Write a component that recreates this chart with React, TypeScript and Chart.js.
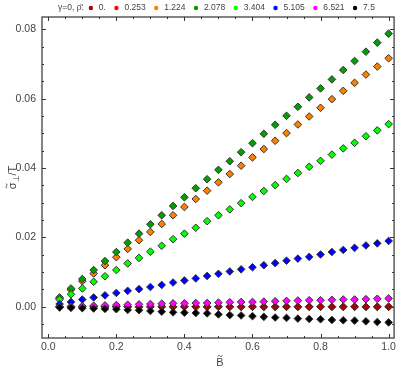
import React, { useEffect, useRef } from "react";
import { Chart, registerables } from "chart.js";

Chart.register(...registerables);

// ---------- data ----------
const B_VALUES = [
  1 / 30, 2 / 30, 3 / 30, 4 / 30, 5 / 30, 6 / 30, 7 / 30, 8 / 30, 9 / 30, 10 / 30,
  11 / 30, 12 / 30, 13 / 30, 14 / 30, 15 / 30, 16 / 30, 17 / 30, 18 / 30, 19 / 30, 20 / 30,
  21 / 30, 22 / 30, 23 / 30, 24 / 30, 25 / 30, 26 / 30, 27 / 30, 28 / 30, 29 / 30, 30 / 30,
];

const RHO_LABELS = ["0.", "0.253", "1.224", "2.078", "3.404", "5.105", "6.521", "7.5"];
const LEGEND_TITLE = "\u03b3=0, \u03c1\u0304:";

const S_RHO_0 = [
  0.0000, 0.0000, 0.0000, 0.0000, 0.0000, 0.0000, 0.0000, 0.0000, 0.0000, 0.0000,
  0.0000, 0.0000, 0.0000, 0.0000, 0.0000, 0.0000, 0.0000, 0.0000, 0.0000, 0.0000,
  0.0000, 0.0000, 0.0000, 0.0000, 0.0000, 0.0000, 0.0000, 0.0000, 0.0000, 0.0000,
];
const S_RHO_0253 = [
  0.0000, 0.0000, 0.0000, 0.0000, 0.0000, 0.0000, 0.0000, 0.0000, 0.0000, 0.0000,
  0.0000, 0.0000, 0.0000, 0.0000, 0.0000, 0.0000, 0.0000, 0.0000, 0.0000, 0.0000,
  0.0000, 0.0000, 0.0000, 0.0000, 0.0000, 0.0000, 0.0000, 0.0000, 0.0000, 0.0000,
];
const S_RHO_1224 = [
  0.0024, 0.0049, 0.0074, 0.0096, 0.0120, 0.0143, 0.0167, 0.0192, 0.0216, 0.0239,
  0.0264, 0.0288, 0.0311, 0.0335, 0.0359, 0.0383, 0.0407, 0.0431, 0.0455, 0.0479,
  0.0501, 0.0526, 0.0549, 0.0574, 0.0599, 0.0623, 0.0646, 0.0670, 0.0693, 0.0717,
];
const S_RHO_2078 = [
  0.0027, 0.0053, 0.0080, 0.0106, 0.0132, 0.0158, 0.0185, 0.0211, 0.0238, 0.0264,
  0.0291, 0.0316, 0.0342, 0.0368, 0.0395, 0.0420, 0.0446, 0.0472, 0.0499, 0.0525,
  0.0551, 0.0577, 0.0604, 0.0630, 0.0656, 0.0683, 0.0709, 0.0736, 0.0762, 0.0788,
];
const S_RHO_3404 = [
  0.0021, 0.0036, 0.0053, 0.0072, 0.0088, 0.0106, 0.0125, 0.0141, 0.0159, 0.0176,
  0.0195, 0.0211, 0.0228, 0.0247, 0.0264, 0.0281, 0.0299, 0.0317, 0.0334, 0.0351,
  0.0369, 0.0386, 0.0404, 0.0421, 0.0439, 0.0457, 0.0473, 0.0492, 0.0509, 0.0527,
];
const S_RHO_5105 = [
  0.0008, 0.0014, 0.0021, 0.0027, 0.0033, 0.0040, 0.0046, 0.0051, 0.0057, 0.0063,
  0.0070, 0.0076, 0.0082, 0.0089, 0.0095, 0.0102, 0.0108, 0.0114, 0.0120, 0.0126,
  0.0133, 0.0139, 0.0144, 0.0151, 0.0158, 0.0164, 0.0170, 0.0177, 0.0183, 0.0190,
];
const S_RHO_6521 = [
  0.0000, 0.0001, 0.0002, 0.0003, 0.0004, 0.0005, 0.0006, 0.0007, 0.0008, 0.0009,
  0.0010, 0.0010, 0.0011, 0.0011, 0.0012, 0.0013, 0.0014, 0.0014, 0.0015, 0.0016,
  0.0017, 0.0018, 0.0019, 0.0019, 0.0020, 0.0021, 0.0021, 0.0022, 0.0023, 0.0024,
];
const S_RHO_75 = [
  -0.0002, -0.0003, -0.0004, -0.0005, -0.0006, -0.0007, -0.0009, -0.0010, -0.0012, -0.0014,
  -0.0016, -0.0017, -0.0018, -0.0019, -0.0022, -0.0024, -0.0025, -0.0027, -0.0029, -0.0031,
  -0.0032, -0.0034, -0.0035, -0.0036, -0.0038, -0.0039, -0.0040, -0.0042, -0.0044, -0.0045,
];

const SERIES = [S_RHO_0, S_RHO_0253, S_RHO_1224, S_RHO_2078, S_RHO_3404, S_RHO_5105, S_RHO_6521, S_RHO_75];
const COLORS = ["#aa0000", "#ff0000", "#ff8000", "#00a000", "#00ff00", "#0000ff", "#ff00ff", "#000000"];
// drawing order: lower = on top (later series drawn above earlier ones; 0.253 lowest)
const ORDERS = [7, 8, 6, 5, 4, 3, 2, 1];

const X_MIN = -0.0184;
const X_MAX = 1.016;
const Y_MIN = -0.009;
const Y_MAX = 0.0836;
const X_MAJOR = 0.2;
const X_MINOR = 0.05;
const Y_MAJOR = 0.02;
const Y_MINOR = 0.005;

const FONT = "'Liberation Sans', Arial, sans-serif";
const TEXT_COLOR = "#444444";
const FRAME_COLOR = "#333333";

function tickValues(min: number, max: number, step: number): number[] {
  const out: number[] = [];
  const start = Math.ceil(min / step - 1e-9);
  const end = Math.floor(max / step + 1e-9);
  for (let k = start; k <= end; k++) out.push(k * step);
  return out;
}

function drawTilde(ctx: CanvasRenderingContext2D, cx: number, cy: number, w: number) {
  ctx.beginPath();
  ctx.moveTo(cx - w / 2, cy + 0.6);
  ctx.bezierCurveTo(cx - w / 4, cy - 1.4, cx - w / 8, cy - 0.4, cx, cy);
  ctx.bezierCurveTo(cx + w / 8, cy + 0.4, cx + w / 4, cy + 1.4, cx + w / 2, cy - 0.6);
  ctx.stroke();
}

const framePlugin = {
  id: "frameTicks",
  afterDatasetsDraw(chart: any) {
    const { ctx, chartArea } = chart;
    const { left, right, top, bottom } = chartArea;
    const xs = chart.scales.x;
    const ys = chart.scales.y;
    ctx.save();
    ctx.strokeStyle = FRAME_COLOR;
    ctx.lineWidth = 1;
    const drawX = (vals: number[], len: number) => {
      vals.forEach((v) => {
        const px = Math.round(xs.getPixelForValue(v)) + 0.5;
        ctx.beginPath();
        ctx.moveTo(px, bottom);
        ctx.lineTo(px, bottom - len);
        ctx.moveTo(px, top);
        ctx.lineTo(px, top + len);
        ctx.stroke();
      });
    };
    const drawY = (vals: number[], len: number) => {
      vals.forEach((v) => {
        const py = Math.round(ys.getPixelForValue(v)) + 0.5;
        ctx.beginPath();
        ctx.moveTo(left, py);
        ctx.lineTo(left + len, py);
        ctx.moveTo(right, py);
        ctx.lineTo(right - len, py);
        ctx.stroke();
      });
    };
    drawX(tickValues(X_MIN, X_MAX, X_MAJOR), 4);
    drawX(tickValues(X_MIN, X_MAX, X_MINOR).filter((v) => Math.abs(v / X_MAJOR - Math.round(v / X_MAJOR)) > 1e-6), 2);
    drawY(tickValues(Y_MIN, Y_MAX, Y_MAJOR), 4);
    drawY(tickValues(Y_MIN, Y_MAX, Y_MINOR).filter((v) => Math.abs(v / Y_MAJOR - Math.round(v / Y_MAJOR)) > 1e-6), 2);
    ctx.lineWidth = 1.2;
    ctx.strokeRect(left, top, right - left, bottom - top);
    ctx.restore();
  },
  afterDraw(chart: any) {
    const { ctx, chartArea } = chart;
    ctx.save();
    // legend
    ctx.font = `8.5px ${FONT}`;
    ctx.textBaseline = "middle";
    ctx.textAlign = "left";
    const ly = 8;
    let x = 58;
    ctx.fillStyle = TEXT_COLOR;
    ctx.fillText(LEGEND_TITLE, x, ly);
    x += ctx.measureText(LEGEND_TITLE).width + 3;
    RHO_LABELS.forEach((lab, i) => {
      ctx.beginPath();
      ctx.arc(x + 4, ly, 2.2, 0, Math.PI * 2);
      ctx.fillStyle = COLORS[i];
      ctx.fill();
      ctx.fillStyle = TEXT_COLOR;
      ctx.fillText(lab, x + 12, ly);
      x += 12 + ctx.measureText(lab).width + 6.5;
    });

    ctx.strokeStyle = TEXT_COLOR;
    ctx.lineWidth = 0.9;

    // x axis title: B with tilde
    const main = `11px ${FONT}`;
    const sub = `8px ${FONT}`;
    ctx.font = main;
    ctx.textBaseline = "alphabetic";
    ctx.textAlign = "center";
    const bx = (chartArea.left + chartArea.right) / 2 + 2;
    const by = 366;
    ctx.fillText("B", bx, by);
    drawTilde(ctx, bx, by - 10, 4.5);

    // y axis title with tilde and subscript
    ctx.textAlign = "left";
    const cy = (chartArea.top + chartArea.bottom) / 2;
    ctx.translate(12, cy);
    ctx.rotate(-Math.PI / 2);
    ctx.font = main;
    const w1 = ctx.measureText("\u03c3").width;
    const w3 = ctx.measureText("/T").width;
    ctx.font = sub;
    const w2 = ctx.measureText("\u22a5").width;
    const total = w1 + w2 + w3;
    let tx = -total / 2;
    const base = 4;
    ctx.font = main;
    ctx.fillText("\u03c3", tx, base);
    drawTilde(ctx, tx + w1 / 2, base - 9.5, 4.5);
    tx += w1;
    ctx.font = sub;
    ctx.fillText("\u22a5", tx, base + 2.5);
    tx += w2;
    ctx.font = main;
    ctx.fillText("/T", tx, base);
    ctx.restore();
  },
};

export default function App() {
  const canvasRef = useRef<HTMLCanvasElement | null>(null);

  useEffect(() => {
    if (!canvasRef.current) return;
    const datasets = SERIES.map((vals, i) => ({
      label: RHO_LABELS[i],
      data: vals.map((v, j) => ({ x: B_VALUES[j], y: v })),
      backgroundColor: COLORS[i],
      borderColor: "#333333",
      borderWidth: 1,
      pointStyle: "rectRot",
      pointRadius: 3.8,
      pointHoverRadius: 3.8,
      showLine: false,
      order: ORDERS[i],
    }));
    const chart = new Chart(canvasRef.current, {
      type: "scatter",
      data: { datasets },
      plugins: [framePlugin],
      options: {
        responsive: false,
        animation: false,
        devicePixelRatio: 1,
        layout: { padding: { top: 17, right: 2.5, left: 0, bottom: 0 } },
        plugins: { legend: { display: false }, tooltip: { enabled: false } },
        scales: {
          x: {
            type: "linear",
            min: X_MIN,
            max: X_MAX,
            grid: { display: false, drawTicks: false },
            border: { display: false },
            afterFit: (scale: any) => {
              scale.height = 37;
            },
            ticks: {
              stepSize: X_MAJOR,
              includeBounds: false,
              autoSkip: false,
              maxRotation: 0,
              padding: 3,
              color: TEXT_COLOR,
              font: { family: FONT, size: 10.5 },
              callback: (v: any) => Number(v).toFixed(1),
            },
          },
          y: {
            type: "linear",
            min: Y_MIN,
            max: Y_MAX,
            grid: { display: false, drawTicks: false },
            border: { display: false },
            afterFit: (scale: any) => {
              scale.width = 42;
            },
            ticks: {
              stepSize: Y_MAJOR,
              includeBounds: false,
              autoSkip: false,
              padding: 6,
              color: TEXT_COLOR,
              font: { family: FONT, size: 10.5 },
              callback: (v: any) => Number(v).toFixed(2),
            },
          },
        },
      },
    } as any);
    return () => chart.destroy();
  }, []);

  return (
    <div style={{ position: "absolute", left: 0, top: 0, width: 399, height: 375 }}>
      <canvas ref={canvasRef} width={399} height={375} style={{ display: "block", width: 399, height: 375 }} />
    </div>
  );
}
